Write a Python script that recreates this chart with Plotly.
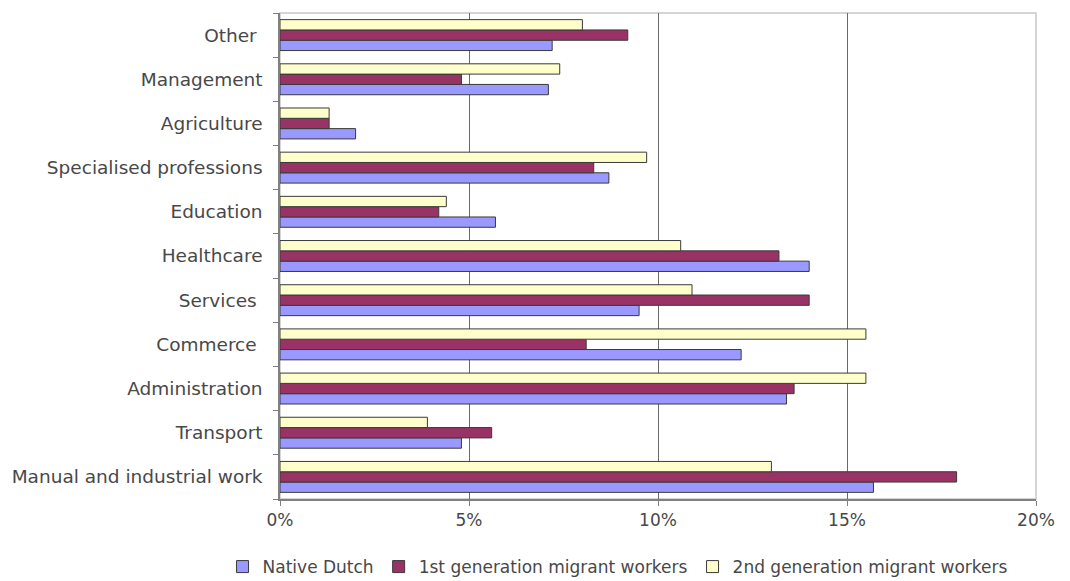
import plotly.graph_objects as go

categories = ["Manual and industrial work", "Transport", "Administration", "Commerce ",
              "Services ", "Healthcare", "Education", "Specialised professions",
              "Agriculture", "Management", "Other "]
native_dutch = [15.7, 4.8, 13.4, 12.2, 9.5, 14.0, 5.7, 8.7, 2.0, 7.1, 7.2]
first_gen = [17.9, 5.6, 13.6, 8.1, 14.0, 13.2, 4.2, 8.3, 1.3, 4.8, 9.2]
second_gen = [13.0, 3.9, 15.5, 15.5, 10.9, 10.6, 4.4, 9.7, 1.3, 7.4, 8.0]

series_names = ["Native Dutch", "1st generation migrant workers", "2nd generation migrant workers"]
series_colors = ["#9999FF", "#993366", "#FFFFCC"]
tick_vals = [0, 5, 10, 15, 20]
tick_text = ["0%", "5%", "10%", "15%", "20%"]

fig = go.Figure()
for name, vals, col in zip(series_names, [native_dutch, first_gen, second_gen], series_colors):
    fig.add_trace(go.Bar(
        y=categories, x=vals, name=name, orientation="h",
        marker=dict(color=col, line=dict(color="#3a3a3a", width=1)),
    ))

fig.add_shape(type="rect", xref="x domain", yref="y domain", x0=0, x1=1, y0=0, y1=1,
              line=dict(color="#c8c8c8", width=1.5), layer="below")

font_family = "DejaVu Sans, Verdana, sans-serif"
fig.update_layout(
    width=1062, height=573,
    margin=dict(l=272, r=34, t=5, b=82, autoexpand=False),
    paper_bgcolor="white", plot_bgcolor="white",
    barmode="group", bargap=0.3, bargroupgap=0,
    font=dict(family=font_family, size=18, color="#484848"),
    showlegend=True,
    legend=dict(orientation="h", x=-0.076, xanchor="left", y=-0.14, yanchor="middle",
                font=dict(size=17, color="#484848"), traceorder="normal",
                itemwidth=30, tracegroupgap=0),
)
fig.update_xaxes(
    range=[0, 20], tickvals=tick_vals, ticktext=tick_text,
    showgrid=True, gridcolor="#6a6a6a", gridwidth=1.2,
    showline=True, linecolor="#808080", linewidth=1.5,
    ticks="outside", ticklen=5, tickcolor="#808080",
    tickfont=dict(size=17, color="#484848"), zeroline=False,
)
fig.update_yaxes(
    showline=True, linecolor="#808080", linewidth=1.5,
    ticks="outside", ticklen=5, tickcolor="#808080", tickson="boundaries",
    tickfont=dict(size=18.5, color="#484848"), showgrid=False,
    ticklabelstandoff=12,
)
fig.write_html("out.html")
